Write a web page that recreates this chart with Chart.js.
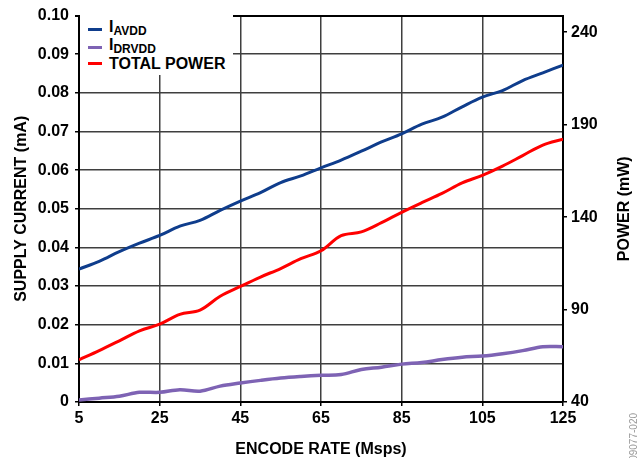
<!DOCTYPE html>
<html>
<head>
<meta charset="utf-8">
<script src="https://cdn.jsdelivr.net/npm/chart.js@4.4.1/dist/chart.umd.min.js"></script>
<style>
  html, body { margin: 0; padding: 0; background: #fff; }
  #wrap { position: relative; width: 637px; height: 458px; overflow: hidden; }
  #legend {
    position: absolute; left: 80px; top: 15px; width: 153px; height: 60px;
    background: #fff; color: #000;
    font-family: 'Liberation Sans', Arial, sans-serif; font-weight: bold; font-size: 16px;
  }
  #legend .row { position: absolute; left: 29px; line-height: 16px; white-space: nowrap; }
  #legend .mark { position: absolute; left: 8px; width: 14px; height: 3px; }
  #legend .sub { font-size: 12px; position: relative; top: 3px; }
</style>
</head>
<body>
<div id="wrap">
  <canvas id="chart" width="637" height="458"></canvas>
  <div id="legend"></div>
</div>
<script>
const encodeRate = [5, 10, 15, 20, 25, 30, 35, 40, 45, 50, 55, 60, 65, 70, 75, 80, 85, 90, 95, 100, 105, 110, 115, 120, 125];
const iAvdd = [0.0344, 0.0364, 0.0389, 0.0411, 0.0431, 0.0455, 0.0470, 0.0496, 0.0520, 0.0542, 0.0568, 0.0585, 0.0606, 0.0626, 0.0649, 0.0673, 0.0694, 0.0719, 0.0737, 0.0764, 0.0789, 0.0806, 0.0832, 0.0852, 0.0872];
const iDrvdd = [0.0005, 0.0010, 0.0015, 0.0025, 0.0025, 0.0032, 0.0028, 0.0041, 0.0049, 0.0056, 0.0062, 0.0066, 0.0069, 0.0071, 0.0084, 0.0090, 0.0098, 0.0102, 0.0110, 0.0116, 0.0119, 0.0125, 0.0133, 0.0143, 0.0143];
const totalPower = [62.8, 67.8, 73.1, 78.5, 82.1, 87.4, 89.7, 97.2, 102.5, 107.6, 112.2, 117.5, 121.8, 130.0, 132.0, 137.0, 142.6, 147.8, 152.8, 158.5, 162.6, 167.6, 173.3, 179.0, 182.2];

const xTicks = [5, 25, 45, 65, 85, 105, 125];
const currentTicks = [0, 0.01, 0.02, 0.03, 0.04, 0.05, 0.06, 0.07, 0.08, 0.09, 0.1];
const currentLabels = ['0', '0.01', '0.02', '0.03', '0.04', '0.05', '0.06', '0.07', '0.08', '0.09', '0.10'];
const powerTicks = [40, 90, 140, 190, 240];

const legendMain = ['I', 'I', 'TOTAL POWER'];
const legendSub = ['AVDD', 'DRVDD', ''];
const lineColors = ['#0f3d8c', '#7e63b4', '#ff0000'];

const FONT = "'Liberation Sans', Arial, sans-serif";
const tickFont = { family: FONT, size: 16, weight: 'bold' };
const gridGray = '#3f3f3f';

const pts = (ys) => encodeRate.map((x, i) => ({ x, y: ys[i] }));

// legend as html so the subscripts stay text
const legendEl = document.getElementById('legend');
const rowTops = [4, 22, 40.5];
const markTops = [12.8, 31.2, 46.8];
legendMain.forEach((name, i) => {
  const m = document.createElement('div');
  m.className = 'mark';
  m.style.top = markTops[i] + 'px';
  m.style.background = lineColors[i];
  legendEl.appendChild(m);
  const r = document.createElement('div');
  r.className = 'row';
  r.style.top = rowTops[i] + 'px';
  r.innerHTML = name + (legendSub[i] ? '<span class="sub">' + legendSub[i] + '</span>' : '');
  legendEl.appendChild(r);
});

const extras = {
  id: 'extras',
  afterDraw(chart) {
    const ctx = chart.ctx;
    const a = chart.chartArea;
    ctx.save();
    ctx.fillStyle = '#000';
    ctx.font = 'bold 16px ' + FONT;
    ctx.textAlign = 'center';
    ctx.textBaseline = 'middle';
    ctx.translate(625, (a.top + a.bottom) / 2);
    ctx.rotate(-Math.PI / 2);
    ctx.fillText('POWER (mW)', 0, 0);
    ctx.restore();

    ctx.save();
    ctx.fillStyle = '#999';
    ctx.font = '10px ' + FONT;
    ctx.textAlign = 'right';
    ctx.textBaseline = 'middle';
    ctx.translate(634, 413);
    ctx.rotate(-Math.PI / 2);
    ctx.fillText('09077-020', 0, 0);
    ctx.restore();
  }
};

new Chart(document.getElementById('chart'), {
  type: 'line',
  data: {
    datasets: [
      { label: 'IAVDD', data: pts(iAvdd), borderColor: lineColors[0], yAxisID: 'y' },
      { label: 'IDRVDD', data: pts(iDrvdd), borderColor: lineColors[1], yAxisID: 'y', borderWidth: 3.5 },
      { label: 'TOTAL POWER', data: pts(totalPower), borderColor: lineColors[2], yAxisID: 'y2' }
    ]
  },
  options: {
    responsive: false,
    animation: false,
    layout: { padding: { top: 11, left: 0, right: 0, bottom: 0 } },
    elements: {
      point: { radius: 0 },
      line: { borderWidth: 3, tension: 0.35, fill: false }
    },
    plugins: { legend: { display: false }, tooltip: { enabled: false } },
    scales: {
      x: {
        type: 'linear',
        min: 5, max: 125,
        afterBuildTicks: s => { s.ticks = xTicks.map(v => ({ value: v })); },
        afterFit: s => { s.height = 56; },
        ticks: { color: '#000', font: tickFont, padding: 3, maxRotation: 0 },
        grid: { color: gridGray, lineWidth: 1.5, tickLength: 4, tickColor: '#000' },
        border: { color: '#000', width: 2 },
        title: { display: true, text: 'ENCODE RATE (Msps)', color: '#000', font: tickFont, padding: { top: 0, bottom: -1.5 } }
      },
      y: {
        position: 'left',
        min: 0, max: 0.1,
        afterBuildTicks: s => { s.ticks = currentTicks.map(v => ({ value: v })); },
        afterFit: s => { s.width = 79; },
        ticks: {
          color: '#000', font: tickFont, padding: 6,
          callback: (v) => currentLabels[currentTicks.indexOf(v)]
        },
        grid: {
          color: c => (c.tick && c.tick.value === 0.1) ? '#000' : gridGray,
          lineWidth: c => (c.tick && c.tick.value === 0.1) ? 2 : 1.5,
          tickLength: 4, tickColor: '#000'
        },
        border: { color: '#000', width: 2 },
        title: { display: true, text: 'SUPPLY CURRENT (mA)', color: '#000', font: tickFont, padding: { top: 12, bottom: 0 } }
      },
      y2: {
        position: 'right',
        min: 40, max: 249,
        afterBuildTicks: s => { s.ticks = powerTicks.map(v => ({ value: v })); },
        afterFit: s => { s.width = 74; },
        ticks: { color: '#000', font: tickFont, padding: 4 },
        grid: { drawOnChartArea: false, tickLength: 4, tickColor: '#000', lineWidth: 1.5 },
        border: { color: '#000', width: 2 }
      }
    }
  },
  plugins: [extras]
});
</script>
</body>
</html>
